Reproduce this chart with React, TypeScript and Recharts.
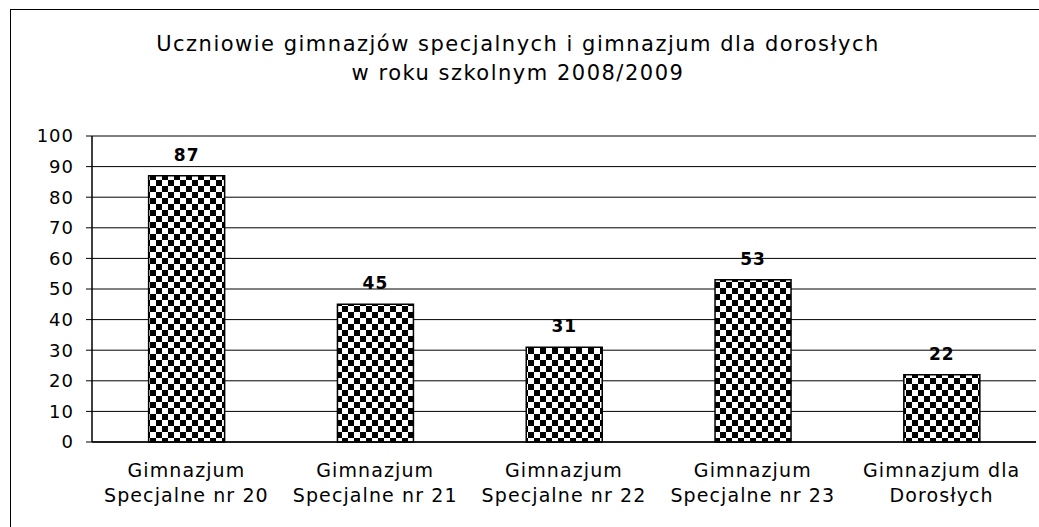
import { BarChart, Bar, XAxis, YAxis, CartesianGrid, LabelList } from 'recharts'

const categories = [
  'Gimnazjum\nSpecjalne nr 20',
  'Gimnazjum\nSpecjalne nr 21',
  'Gimnazjum\nSpecjalne nr 22',
  'Gimnazjum\nSpecjalne nr 23',
  'Gimnazjum dla\nDorosłych',
]
const students = [87, 45, 31, 53, 22]
const yTicks = [0, 10, 20, 30, 40, 50, 60, 70, 80, 90, 100]
const boundaryTicks = [0, 1, 2, 3, 4, 5]

const FONT = '"DejaVu Sans", sans-serif'

const data = categories.map((name, i) => ({ name, value: students[i], pos: i + 0.5 }))

function CategoryTick({ x, y, payload }: any) {
  const lines = String(payload.value).split('\n')
  return (
    <g transform={`translate(${x},${y})`}>
      {lines.map((l, i) => (
        <text key={i} x={0} y={27 + i * 25} textAnchor="middle" fontSize={19}
          letterSpacing={1.1} fontFamily={FONT} fill="#000">{l}</text>
      ))}
    </g>
  )
}

export default function App() {
  return (
    <div style={{ position: 'absolute', left: 0, top: 0, width: 1039, height: 527, background: '#fff', overflow: 'hidden' }}>
      <div style={{ position: 'absolute', left: 10, top: 9, width: 1040, height: 600, border: '1px solid #000' }} />
      <div style={{
        position: 'absolute', left: 0, top: 30, width: 1036, textAlign: 'center',
        fontFamily: FONT, fontSize: 21, letterSpacing: 1.5, lineHeight: '29px', color: '#000',
      }}>
        Uczniowie gimnazjów specjalnych i gimnazjum dla dorosłych<br />w roku szkolnym 2008/2009
      </div>
      <div style={{ position: 'absolute', left: 0, top: 0 }}>
        <BarChart width={1039} height={527} data={data}
          margin={{ top: 136, right: 3, left: 0, bottom: 0 }} barCategoryGap="30%">
          <defs>
            <pattern id="checker" width="12" height="12" patternUnits="userSpaceOnUse">
              <rect width="12" height="12" fill="#fff" />
              <rect x="0" y="0" width="6" height="6" fill="#000" />
              <rect x="6" y="6" width="6" height="6" fill="#000" />
            </pattern>
          </defs>
          <CartesianGrid horizontal vertical={false} stroke="#000" strokeWidth={1} />
          <XAxis dataKey="name" xAxisId={0} tick={<CategoryTick />} tickLine={false}
            axisLine={{ stroke: '#000', strokeWidth: 1.5 }} interval={0} height={85} />
          <XAxis xAxisId="edges" type="number" dataKey="pos" domain={[0, 5]} ticks={boundaryTicks}
            tick={false} tickSize={5} tickLine={{ stroke: '#000' }} axisLine={false} height={0} />
          <YAxis domain={[0, 100]} ticks={yTicks} width={92} interval={0}
            tick={{ fill: '#000', fontSize: 18, fontFamily: FONT, letterSpacing: 1 }} tickSize={6} tickMargin={12}
            tickLine={{ stroke: '#000' }} axisLine={{ stroke: '#000', strokeWidth: 1.5 }} />
          <YAxis yAxisId="right" orientation="right" width={0} domain={[0, 100]} tick={false}
            tickLine={false} axisLine={{ stroke: '#000', strokeWidth: 1.5 }} />
          <Bar dataKey="value" fill="url(#checker)" stroke="#000" strokeWidth={1.5} isAnimationActive={false}>
            <LabelList dataKey="value" position="top" offset={15}
              style={{ fill: '#000', fontSize: 17, fontWeight: 'bold', fontFamily: FONT, letterSpacing: 1 }} />
          </Bar>
        </BarChart>
      </div>
    </div>
  )
}
